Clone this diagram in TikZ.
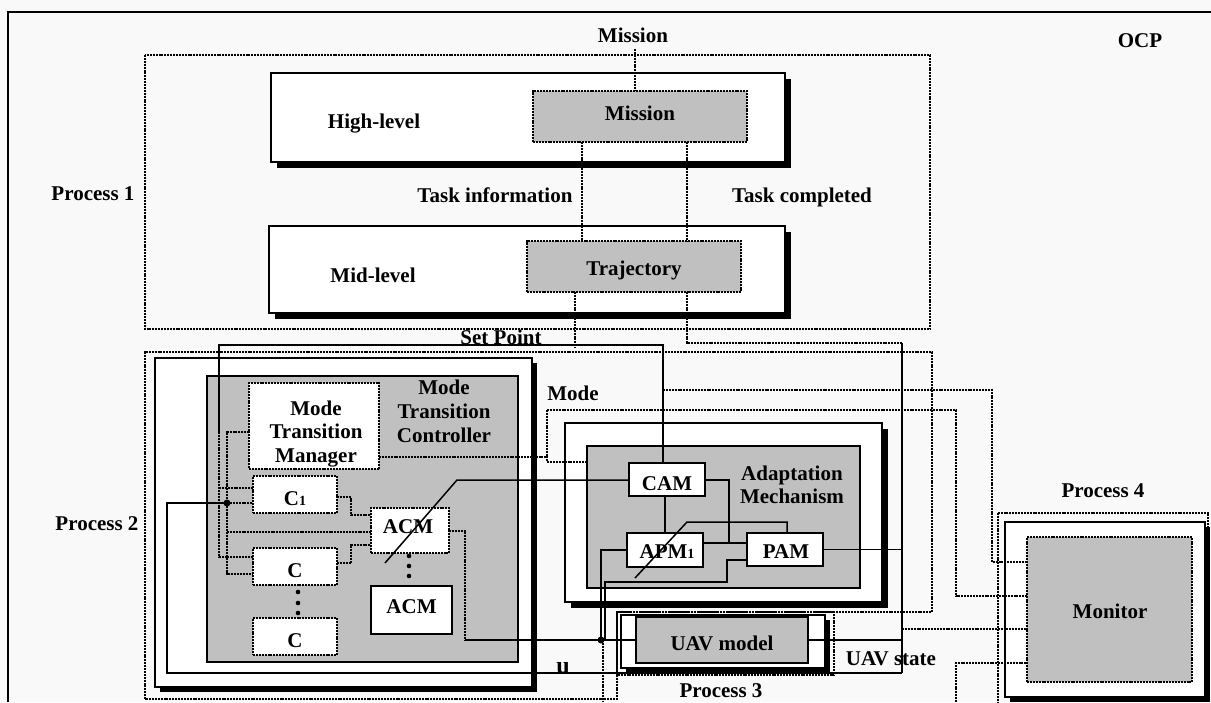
\documentclass[tikz,border=0pt]{standalone}
\usepackage{fontspec}
\setmainfont{Liberation Serif}
\usetikzlibrary{shadows}
\definecolor{bg}{RGB}{248,249,248}
\definecolor{boxgray}{RGB}{192,192,192}

\begin{document}
\begin{tikzpicture}[x=1pt,y=-1pt,
  every node/.style={font=\fontsize{21}{24}\selectfont\bfseries, inner sep=0pt, outer sep=0pt},
  lbl/.style={anchor=base},
  sz/.style 2 args={minimum width=#1, minimum height=#2},
  dotline/.style={line width=1.4pt, dash pattern=on 2pt off 0.9pt},
  sig/.style={line width=1.5pt},
  wbox/.style={draw=black, line width=1.4pt, fill=white,
    drop shadow={shadow xshift=#1, shadow yshift=-#1, fill=black, opacity=1}},
  wbox/.default=6pt,
  gbox/.style={draw=black, line width=1.4pt, fill=boxgray},
  gdbox/.style={draw=black, dotline, fill=boxgray},
  wdbox/.style={draw=black, dotline, fill=white},
  wsbox/.style={draw=black, line width=1.4pt, fill=white},
  jdot/.style={circle, fill=black, minimum size=7pt}]

\useasboundingbox (0,0) rectangle (1211,702);
\clip (0,0) rectangle (1211,702);
\fill[bg] (0,0) rectangle (1211,702);

% outer frame (OCP)
\draw[line width=1.6pt] (8,702) -- (8,12) -- (1211,12);

% process boundaries
\draw[dotline] (145,55) rectangle (930,329);
\draw[dotline] (145,699) -- (145,352) -- (932,352) -- (932,612) -- (617,612) -- (617,699) -- cycle;
\draw[dotline, line width=2.2pt] (617,612) rectangle (834,675);
\draw[dotline, line width=2pt] (998,513) rectangle (1208,720);

% Process 1
\node[wbox, sz={514pt}{89pt}] (hl) at (528,117.5) {};
\node[gdbox, sz={214pt}{51pt}] (mis) at (640,116.5) {};
\node[wbox, sz={516pt}{87pt}] (ml) at (527,269.5) {};
\node[gdbox, sz={214pt}{51pt}] (traj) at (634,266.5) {};

% Process 2
\node[wbox=5pt, sz={377pt}{329pt}] (p2w) at (343.5,522.5) {};
\node[gbox, sz={311pt}{286pt}] (mtc) at (362.5,519) {};
\node[wdbox, sz={130pt}{86pt}] (mtm) at (314,426) {};
\node[wdbox, sz={84pt}{37pt}] (c1) at (295,494.5) {};
\node[wdbox, sz={84pt}{37pt}] (cc) at (295,566.5) {};
\node[wdbox, sz={84pt}{37pt}] (cn) at (295,636.5) {};
\node[wdbox, sz={78pt}{45pt}] (acmA) at (410,530.5) {};
\node[wsbox, sz={81pt}{48pt}] (acmB) at (411.5,610) {};

% adaptation mechanism
\node[wbox, sz={317pt}{179pt}] (adw) at (723.5,512.5) {};
\node[gbox, sz={273pt}{142pt}] (adg) at (723.5,517) {};
\node[wsbox, sz={76pt}{33pt}] (cam) at (667,479.5) {};
\node[wsbox, sz={76pt}{34pt}] (apm) at (665,550) {};
\node[wsbox, sz={76pt}{33pt}] (pam) at (785,549.5) {};

% Process 3
\node[wbox=5pt, sz={204pt}{53pt}] (uavw) at (723,641.5) {};
\node[gbox, sz={172pt}{46pt}] (uav) at (722,640) {};

% Process 4
\node[wbox=5pt, sz={200pt}{175pt}] (monw) at (1105,609.5) {};
\node[gdbox, sz={165pt}{145pt}] (mon) at (1109.5,609.5) {};

% junctions
\coordinate (j1) at (227,503);
\coordinate (j2) at (601,640);

% mission / task flow
\draw[dotline] (635,49) -- (635,0 |- mis.north);
\draw[dotline] (582,0 |- mis.south) -- (582,0 |- traj.north);
\draw[dotline] (687,0 |- mis.south) -- (687,0 |- traj.north);
\draw[dotline] (575,0 |- traj.south) -- (575,348);
\draw[dotline] (687,0 |- traj.south) -- (687,343) -- (902,343);
\draw[sig] (902,343) -- (902,673);

% set point
\draw[sig] (219,432) -- (219,345) -- (663,345) -- (663,0 |- cam.north);
\draw[dotline] (219,432) -- (219,557) -- (cc.west |- 0,557);
\draw[dotline] (219,488) -- (c1.west |- 0,488);
\draw[dotline] (663,390) -- (992,390) -- (992,562) -- (mon.west |- 0,562);

% mode transition manager links
\draw[dotline] (mtm.west |- 0,432) -- (227,432) -- (227,574) -- (cc.west |- 0,574);
\draw[dotline] (j1) -- (c1.west |- 0,503);
\draw[dotline] (227,532) -- (acmA.west |- 0,532);
\draw[dotline] (mtm.east |- 0,457) -- (547,457);
\draw[dotline] (547,410) -- (547,462) -- (adg.west |- 0,462);
\draw[dotline] (547,410) -- (956,410) -- (956,596) -- (mon.west |- 0,596);

% controllers to ACM
\draw[dotline] (c1.east |- 0,497) -- (351,497) -- (351,515) -- (acmA.west |- 0,515);
\draw[dotline] (cc.east |- 0,563) -- (351,563) -- (351,545) -- (acmA.west |- 0,545);
\draw[dotline] (acmA.east |- 0,531) -- (465,531) -- (465,640);
\draw[sig] (465,640) -- (uav.west);

% feedback u
\draw[sig] (902,673) -- (167,673) -- (167,503) -- (j1);

% adaptation links
\draw[sig] (cam.west |- 0,480) -- (457,480) -- (385,563);
\draw[sig] (665,0 |- cam.south) -- (665,0 |- apm.north);
\draw[sig] (cam.east |- 0,480) -- (729,480) -- (729,543);
\draw[sig] (apm.east |- 0,543) -- (pam.west |- 0,543);
\draw[sig] (787,0 |- pam.north) -- (787,522) -- (687,522) -- (635,578);
\draw[sig] (apm.west) -- (601,550) -- (j2);
\draw[sig] (pam.west |- 0,560) -- (727,560) -- (727,582) -- (605,582) -- (605,640);
\draw[dotline] (603,640) -- (603,702);
\draw[sig] (pam.east) -- (902,0 |- pam.east);
\draw[sig] (uav.east) -- (902,0 |- uav.east);

% to monitor
\draw[dotline] (902,629) -- (mon.west |- 0,629);
\draw[dotline] (956,702) -- (956,663) -- (mon.west |- 0,663);

% junction dots
\node[jdot] (d1) at (j1) {};
\node[jdot] (d2) at (j2) {};
\foreach \yy in {592,603,613} \fill (298,\yy) circle (2.3pt);
\foreach \yy in {556,566,576} \fill (409,\yy) circle (2.3pt);

% labels
\node[lbl] (tmission) at (633,42) {Mission};
\node[lbl] (tocp) at (1140,47) {OCP};
\node[lbl] (tp1) at (93,200) {Process 1};
\node[lbl] (thl) at (374,128) {High-level};
\node[lbl] (tmis) at (640,120) {Mission};
\node[lbl] (tti) at (495,202) {Task information};
\node[lbl] (ttc) at (802,202) {Task completed};
\node[lbl] (tml) at (373,282) {Mid-level};
\node[lbl] (ttraj) at (634,275) {Trajectory};
\node[lbl] (tsp) at (501,344) {Set Point};
\node[lbl] (tp2) at (97,530) {Process 2};
\node[lbl] (tmode) at (573,400) {Mode};
\node[lbl] (tmtc1) at (444,394) {Mode};
\node[lbl] (tmtc2) at (444,418) {Transition};
\node[lbl] (tmtc3) at (444,442) {Controller};
\node[lbl] (tmtm1) at (316,415) {Mode};
\node[lbl] (tmtm2) at (316,438.5) {Transition};
\node[lbl] (tmtm3) at (316,462) {Manager};
\node[lbl] (tc1) at (295,505) {C{\fontsize{14}{14}\selectfont 1}};
\node[lbl] (tcc) at (295,577) {C};
\node[lbl] (tcn) at (295,647) {C};
\node[lbl] (tacmA) at (408,533) {ACM};
\node[lbl] (tacmB) at (411.5,613) {ACM};
\node[lbl] (tcam) at (667,490) {CAM};
\node[lbl] (tapm) at (667,558) {APM{\fontsize{14}{14}\selectfont 1}};
\node[lbl] (tpam) at (786,558) {PAM};
\node[lbl] (tad1) at (792,480) {Adaptation};
\node[lbl] (tad2) at (792,503) {Mechanism};
\node[lbl] (tuav) at (722,650) {UAV model};
\node[lbl] (tuavs) at (891,665) {UAV state};
\node[lbl] (tp3) at (721,697) {Process 3};
\node[lbl, font=\fontsize{24}{24}\selectfont\bfseries] (tu) at (563,673) {u};
\node[lbl] (tmon) at (1110,618) {Monitor};
\node[lbl] (tp4) at (1103,497) {Process 4};
\end{tikzpicture}
\end{document}
